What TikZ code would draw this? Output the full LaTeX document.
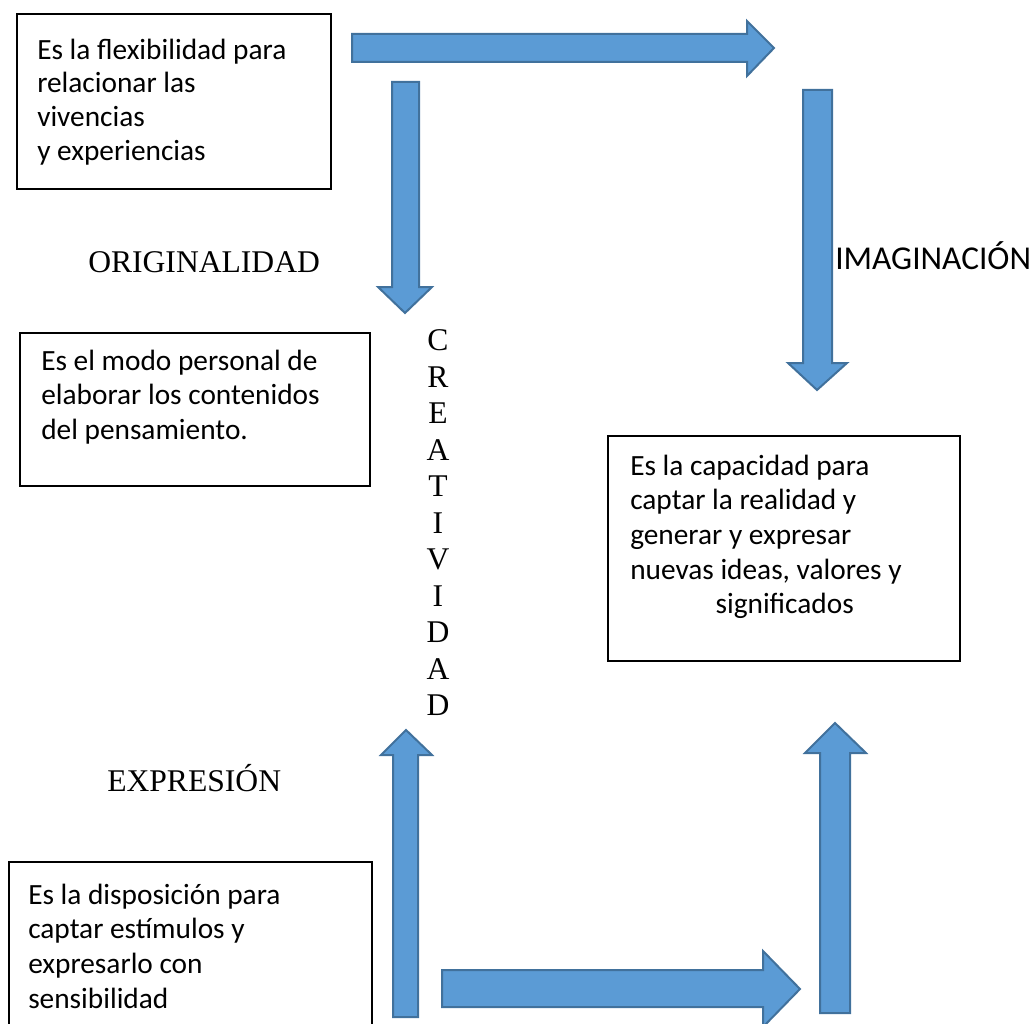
\documentclass[tikz,border=0pt]{standalone}
\usepackage{fontspec}
\setmainfont{Carlito}
\newfontfamily\serifl{Liberation Serif}
\usetikzlibrary{fit}
\definecolor{arrowfill}{RGB}{91,155,213}
\definecolor{arrowline}{RGB}{65,113,156}
\newcommand{\firststrut}{\rule{0pt}{20pt}}
\tikzset{
  blockarrow/.style={fill=arrowfill, draw=arrowline, line width=1.5pt, line join=miter},
  boxframe/.style={draw=black, line width=1.2pt, inner sep=0pt, fill=none},
  boxtext/.style={anchor=north west, inner sep=0pt, align=left, font=\fontsize{22}{26}\selectfont},
  serlabel/.style={inner sep=0pt, font=\serifl\fontsize{23.7}{28}\selectfont},
  letter/.style={inner sep=0pt, anchor=base, font=\serifl\fontsize{23.7}{28}\selectfont}
}
\begin{document}
\begin{tikzpicture}[x=0.75pt,y=-0.75pt]
\useasboundingbox (0,0) rectangle (1036,1024);
\clip (0,0) rectangle (1036,1024);
% boxes
\node[boxframe, fit={(17,14) (331,189)}] (b1) {};
\node[boxframe, fit={(20,333) (370,486)}] (b2) {};
\node[boxframe, fit={(608,436) (960,661)}] (b3) {};
\node[boxframe, fit={(9,862) (372,1040)}] (b4) {};
% box texts (top = first baseline - 26.67px)
\node[boxtext, font=\fontsize{22}{25.2}\selectfont] (t1) at (37,32.33) {\firststrut Es la flexibilidad para\\relacionar las\\vivencias\\y experiencias};
\node[boxtext] (t2) at (41,343.33) {\firststrut Es el modo personal de\\elaborar los contenidos\\del pensamiento.};
\node[boxtext] (t3) at (630,448.33) {\firststrut Es la capacidad para\\captar la realidad y\\generar y expresar\\nuevas ideas, valores y\\\hspace*{64pt}significados};
\node[boxtext] (t4) at (28,877.33) {\firststrut Es la disposición para\\captar estímulos y\\expresarlo con\\sensibilidad};
% labels
\node[serlabel, anchor=base west] (orig) at (88,272) {ORIGINALIDAD};
\node[serlabel, anchor=base west] (expr) at (107,791) {EXPRESIÓN};
\node[inner sep=0pt, anchor=base west, font=\fontsize{25}{30}\selectfont] (imag) at (835,269) {IMAGINACIÓN};
% CREATIVIDAD
\foreach \l [count=\i from 0] in {C,R,E,A,T,I,V,I,D,A,D} {
  \node[letter] (cr\i) at (438,{350.5+36.5*\i}) {\l};
}
% block arrows
\draw[blockarrow] (352,34) -- (747,34) -- (747,21) -- (774,48) -- (747,76) -- (747,62) -- (352,62) -- cycle;
\draw[blockarrow] (392,82) -- (419,82) -- (419,287) -- (432,287) -- (405,313) -- (378,287) -- (392,287) -- cycle;
\draw[blockarrow] (803,90) -- (832,90) -- (832,363) -- (847,363) -- (817,390) -- (788,363) -- (803,363) -- cycle;
\draw[blockarrow] (393,1017) -- (393,755) -- (381,755) -- (406,730) -- (432,755) -- (418,755) -- (418,1017) -- cycle;
\draw[blockarrow] (442,970) -- (763,970) -- (763,951) -- (800,989) -- (763,1027) -- (763,1007) -- (442,1007) -- cycle;
\draw[blockarrow] (820,1013) -- (820,753) -- (805,753) -- (835,723) -- (866,753) -- (850,753) -- (850,1013) -- cycle;
\end{tikzpicture}
\end{document}
